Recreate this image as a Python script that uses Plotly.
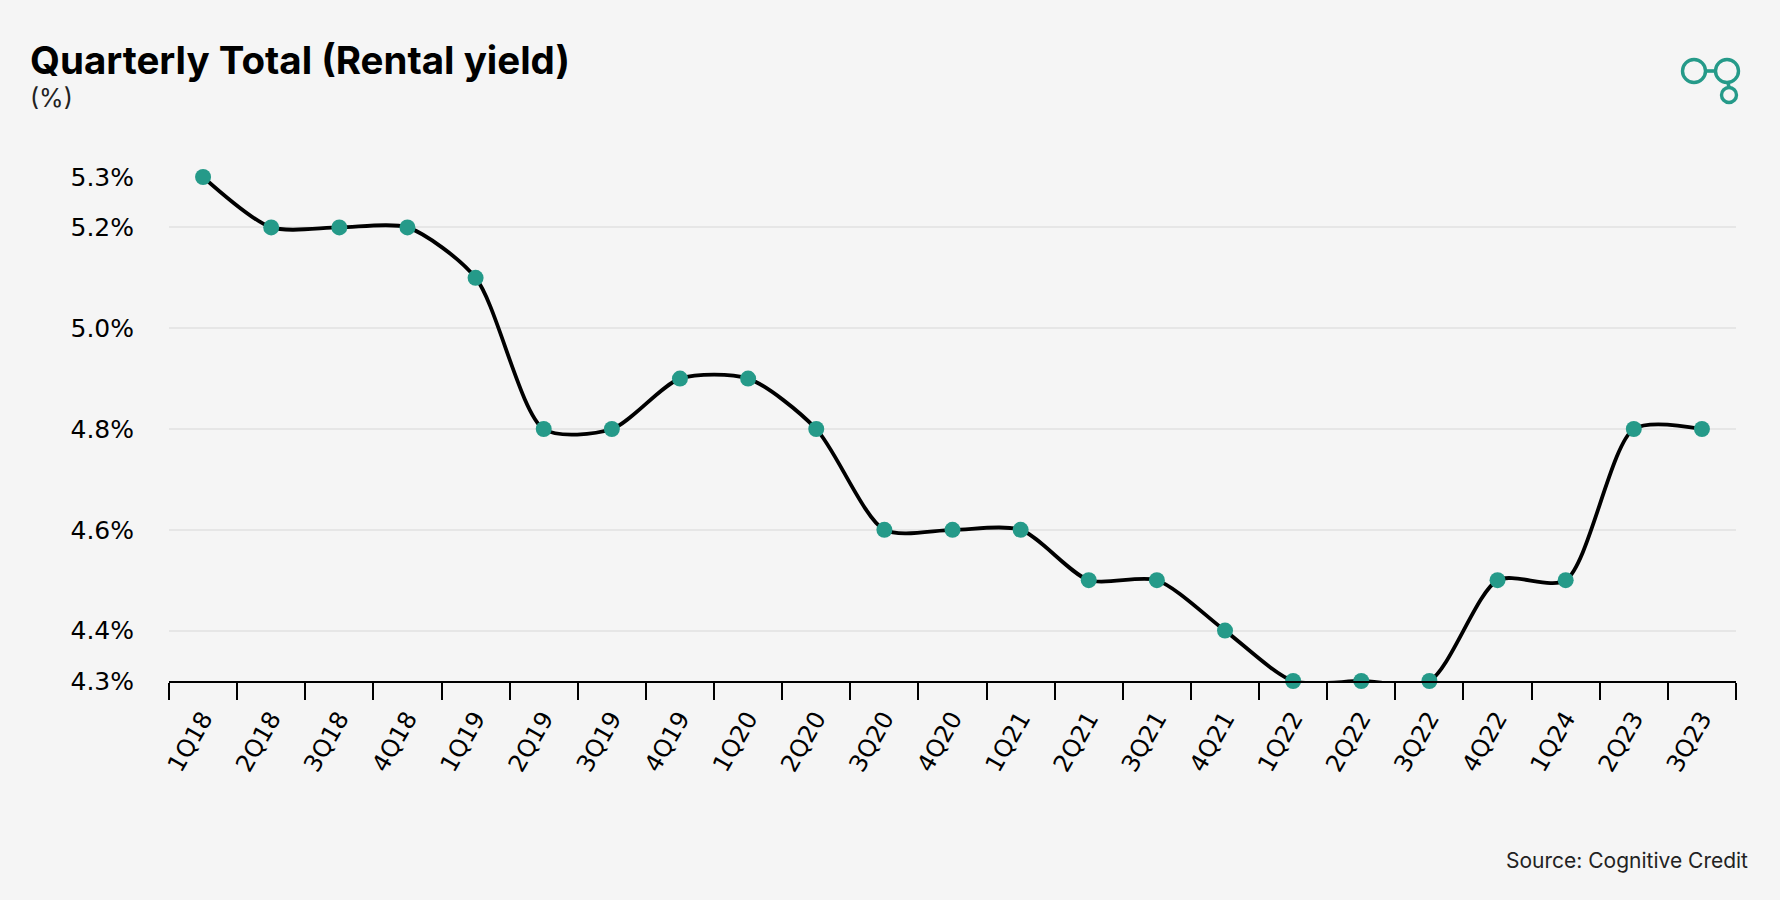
import plotly.graph_objects as go

quarters = ["1Q18", "2Q18", "3Q18", "4Q18", "1Q19", "2Q19", "3Q19", "4Q19", "1Q20", "2Q20",
            "3Q20", "4Q20", "1Q21", "2Q21", "3Q21", "4Q21", "1Q22", "2Q22", "3Q22", "4Q22",
            "1Q24", "2Q23", "3Q23"]
rental_yield = [5.3, 5.2, 5.2, 5.2, 5.1, 4.8, 4.8, 4.9, 4.9, 4.8,
                4.6, 4.6, 4.6, 4.5, 4.5, 4.4, 4.3, 4.3, 4.3, 4.5,
                4.5, 4.8, 4.8]
y_tick_vals = [4.3, 4.4, 4.6, 4.8, 5.0, 5.2, 5.3]
y_tick_text = ["4.3%", "4.4%", "4.6%", "4.8%", "5.0%", "5.2%", "5.3%"]

W, H = 1780, 900
L, R, T, B = 169, 44, 177, 219
PW, PH = W - L - R, H - T - B

def px(x):
    return (x - L) / PW

def py(y):
    return (H - B - y) / PH

TEAL = "#259a89"
BG = "#f5f5f5"

fig = go.Figure()
fig.add_trace(go.Scatter(
    x=quarters, y=rental_yield, mode="lines",
    line=dict(color="black", width=3.8, shape="spline", smoothing=0.75),
    hoverinfo="skip", cliponaxis=False, showlegend=False,
))
fig.add_trace(go.Scatter(
    x=quarters, y=rental_yield, mode="markers",
    marker=dict(color=TEAL, size=16, line=dict(width=0)),
    cliponaxis=False, showlegend=False,
))

shapes = []
# logo
for cx, cy, r in [(1694, 71, 11.5), (1727, 71, 11.5), (1729, 95, 7.5)]:
    shapes.append(dict(type="circle", xref="paper", yref="paper",
                       x0=px(cx - r), x1=px(cx + r), y0=py(cy + r), y1=py(cy - r),
                       line=dict(color=TEAL, width=3.4)))
shapes.append(dict(type="line", xref="paper", yref="paper",
                   x0=px(1705), x1=px(1716), y0=py(71), y1=py(71),
                   line=dict(color=TEAL, width=3.6)))
shapes.append(dict(type="line", xref="paper", yref="paper",
                   x0=px(1728), x1=px(1729), y0=py(82), y1=py(88),
                   line=dict(color=TEAL, width=3.6)))

fig.update_layout(
    width=W, height=H,
    margin=dict(l=L, r=R, t=T, b=B),
    paper_bgcolor=BG, plot_bgcolor=BG,
    shapes=shapes,
    annotations=[
        dict(text="<b>Quarterly Total (Rental yield)</b>", xref="paper", yref="paper",
             x=px(28), y=py(35), xanchor="left", yanchor="top", showarrow=False,
             font=dict(family="Inter", size=38.5, color="black")),
        dict(text="(%)", xref="paper", yref="paper",
             x=px(28), y=py(81), xanchor="left", yanchor="top", showarrow=False,
             font=dict(family="Inter", size=25, color="#222222")),
        dict(text="Source: Cognitive Credit", xref="paper", yref="paper",
             x=px(1750), y=py(860), xanchor="right", yanchor="middle", showarrow=False,
             font=dict(family="Inter", size=21, color="#222222")),
    ],
    xaxis=dict(
        type="category", range=[-0.5, len(quarters) - 0.5],
        showgrid=False, zeroline=False,
        showline=True, linecolor="black", linewidth=2,
        ticks="outside", tickson="boundaries", ticklen=17, tickwidth=2, tickcolor="black",
        tickangle=-60, ticklabelstandoff=12,
        tickfont=dict(family="DejaVu Sans", size=24, color="black"),
    ),
    yaxis=dict(
        range=[4.3, 5.3], tickvals=y_tick_vals, ticktext=y_tick_text,
        showgrid=True, gridcolor="#e6e6e6", gridwidth=1.5,
        zeroline=False, showline=False, ticks="",
        ticklabelstandoff=34,
        tickfont=dict(family="DejaVu Sans", size=25, color="black"),
    ),
)

fig.write_html(
    "out.html",
    config={"displayModeBar": False},
    post_script="document.body.style.margin='0';document.body.style.background='#f5f5f5';",
)
